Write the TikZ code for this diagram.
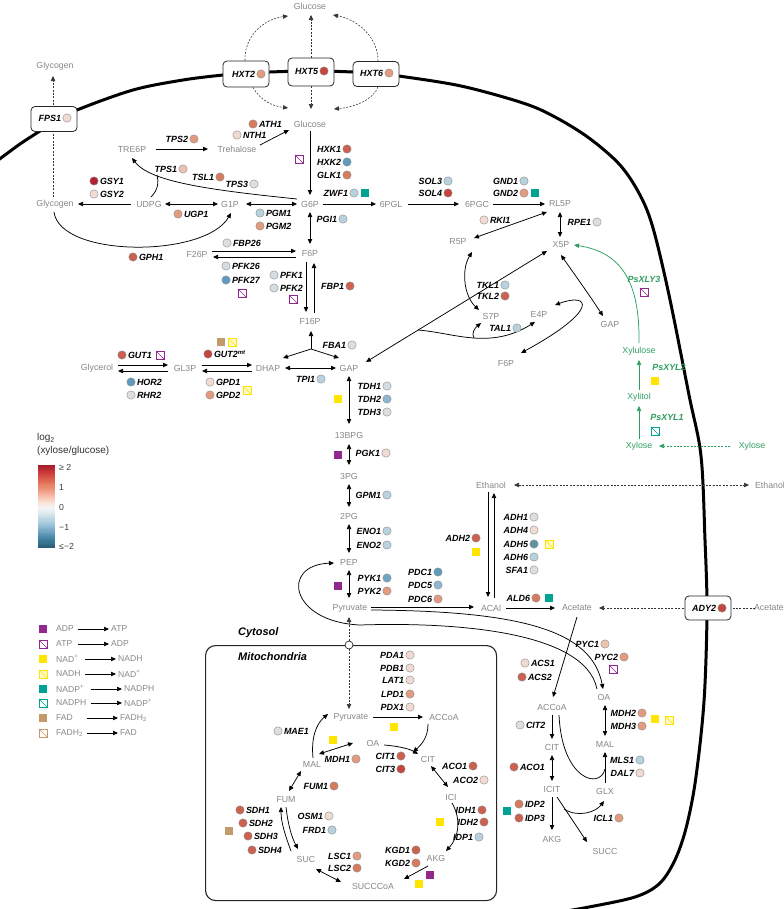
\documentclass[tikz,border=0pt]{standalone}
\usepackage{fontspec}
\setmainfont{Liberation Sans}
\setsansfont{Liberation Sans}
\usetikzlibrary{arrows.meta}

\definecolor{metgray}{RGB}{135,135,135}
\definecolor{xgreen}{RGB}{46,158,96}
\definecolor{purp}{RGB}{146,39,143}
\definecolor{yel}{RGB}{255,228,0}
\definecolor{yelpale}{RGB}{255,249,196}
\definecolor{teal2}{RGB}{0,163,145}
\definecolor{brn}{RGB}{196,154,108}
\definecolor{dr}{RGB}{178,34,52}
\definecolor{ra}{RGB}{196,70,63}
\definecolor{rb}{RGB}{204,97,80}
\definecolor{oa}{RGB}{215,123,95}
\definecolor{sa}{RGB}{227,155,128}
\definecolor{sb}{RGB}{237,193,176}
\definecolor{pa}{RGB}{240,218,210}
\definecolor{ga}{RGB}{222,222,222}
\definecolor{gb}{RGB}{211,221,227}
\definecolor{lb}{RGB}{183,209,223}
\definecolor{mb}{RGB}{143,184,208}
\definecolor{bb}{RGB}{112,166,197}
\definecolor{ba}{RGB}{94,155,190}
\definecolor{tb}{RGB}{94,148,159}
\definecolor{cb0}{RGB}{160,25,45}
\definecolor{cb1}{RGB}{200,55,55}
\definecolor{cb2}{RGB}{225,110,85}
\definecolor{cb3}{RGB}{244,170,145}
\definecolor{cb4}{RGB}{249,228,218}
\definecolor{cb5}{RGB}{245,245,245}
\definecolor{cb6}{RGB}{212,229,238}
\definecolor{cb7}{RGB}{150,192,214}
\definecolor{cb8}{RGB}{75,138,172}
\definecolor{cb9}{RGB}{38,92,115}

\newcommand\metfont{\fontsize{8.8}{10}\selectfont}
\newcommand\genefont{\fontsize{9}{10}\selectfont\bfseries\itshape}
\newcommand\legfont{\fontsize{8.6}{10}\selectfont}

\tikzset{
  met/.style={font=\metfont, text=metgray, inner sep=1bp},
  xmet/.style={font=\metfont, text=xgreen, inner sep=1bp},
  gene/.style={font=\genefont, text=black, inner sep=0bp},
  gcirc/.style={circle, draw=black!45, line width=0.4bp, minimum size=8.4bp, inner sep=0bp},
  sqr/.style={rectangle, minimum size=7.6bp, inner sep=0bp, line width=0.6bp},
  tbox/.style={draw=black!85, rounded corners=4bp, fill=white, line width=0.8bp, minimum width=46bp, minimum height=25bp, inner sep=0bp},
  mtip/.tip={Triangle[length=5bp,width=4.4bp]},
  arr/.style={-mtip, line width=0.75bp},
  darr/.style={mtip-mtip, line width=0.75bp},
  cline/.style={line width=0.75bp},
  dsh/.style={dash pattern=on 2bp off 1.4bp, line width=0.55bp, draw=black!80},
  garr/.style={-mtip, line width=0.75bp, draw=xgreen},
  leg/.style={font=\legfont, text=metgray, inner sep=0bp},
  larr/.style={-mtip, line width=0.7bp},
  cbl/.style={font=\fontsize{8.8}{10}\selectfont, text=black!75, inner sep=0bp},
}

\newcommand\gR[5]{\node[gcirc,fill=#4] (#1c) at (#2,#3) {};\node[gene,anchor=east] (#1) at ([xshift=-1.4bp]#1c.west) {#5};}
\newcommand\gL[5]{\node[gcirc,fill=#4] (#1c) at (#2,#3) {};\node[gene,anchor=west] (#1) at ([xshift=1.4bp]#1c.east) {#5};}
\newcommand\sqF[4]{\node[sqr,fill=#4] (#1) at (#2,#3) {};}
\newcommand\sqH[5]{\node[sqr,draw=#4,fill=#5] (#1) at (#2,#3) {};\draw[#4,line width=0.55bp] (#1.north west) -- (#1.south east);}

\begin{document}
\begin{tikzpicture}[x=1bp,y=-1bp]
\useasboundingbox (0,0) rectangle (784,909);

% ---------- membrane
\draw[line width=3bp, line cap=round] plot[smooth, tension=0.55] coordinates {(-3,161) (20,144) (40,131) (54,122) (77,110) (133,90) (183,80) (223,75) (246,73) (311,71) (376,73) (399,76) (461,86) (523,103) (555,117) (589,138) (620,165) (640,195) (653,228) (669,295) (689,395) (701,456) (705,540) (707,608) (705,684) (701,735) (694,790) (685,832) (674,862) (659,884) (635,897) (589,907) (560,912)};

% ---------- mitochondrion
\node[draw=black!85, rounded corners=10bp, line width=1.1bp, minimum width=291bp, minimum height=255bp, anchor=north west, inner sep=0bp] (mito) at (205,645) {};

% ---------- metabolites
\node[met] (GlcOut) at (310,6) {Glucose};
\node[met] (GlcIn) at (310,124) {Glucose};
\node[met] (GlyTop) at (55,66) {Glycogen};
\node[met] (TRE6P) at (132,149) {TRE6P};
\node[met] (Treh) at (237,149) {Trehalose};
\node[met] (Glyc) at (55,204) {Glycogen};
\node[met] (UDPG) at (149,204) {UDPG};
\node[met] (G1P) at (230,204) {G1P};
\node[met] (G6P) at (310,204) {G6P};
\node[met] (PGL) at (391,204) {6PGL};
\node[met] (PGC) at (477,204) {6PGC};
\node[met] (RL5P) at (560,204) {RL5P};
\node[met] (R5P) at (458,242) {R5P};
\node[met] (X5P) at (561,245) {X5P};
\node[met] (F6P) at (310,253) {F6P};
\node[met] (F26P) at (197,254) {F26P};
\node[met] (F16P) at (310,321) {F16P};
\node[met] (S7P) at (491,316) {S7P};
\node[met] (E4P) at (539,314) {E4P};
\node[met] (GAPr) at (610,324) {GAP};
\node[met] (F6Pr) at (506,363) {F6P};
\node[met] (Glycerol) at (97,368) {Glycerol};
\node[met] (GL3P) at (185,368) {GL3P};
\node[met] (DHAP) at (268,368) {DHAP};
\node[met] (GAP) at (349,368) {GAP};
\node[met] (BPG) at (349,435) {13BPG};
\node[met] (PG3) at (349,476) {3PG};
\node[met] (PG2) at (349,516) {2PG};
\node[met] (PEP) at (349,562) {PEP};
\node[met] (Pyr) at (350,608) {Pyruvate};
\node[met] (EtOH) at (491,485) {Ethanol};
\node[met] (EtOHout) at (770,485) {Ethanol};
\node[met] (ACAl) at (491,608) {ACAl};
\node[met] (Ac) at (577,608) {Acetate};
\node[met] (AcOut) at (769,608) {Acetate};
\node[xmet] (Xyl) at (639,446) {Xylose};
\node[xmet] (XylOut) at (752,446) {Xylose};
\node[xmet] (Xlt) at (639,397) {Xylitol};
\node[xmet] (Xlu) at (639,351) {Xylulose};
\node[met] (PyrM) at (351,717) {Pyruvate};
\node[met] (AcCoAM) at (444,717) {ACCoA};
\node[met] (OAM) at (373,743) {OA};
\node[met] (CITM) at (428,759) {CIT};
\node[met] (MALM) at (312,764) {MAL};
\node[met] (FUMM) at (286,800) {FUM};
\node[met] (SUCM) at (306,859) {SUC};
\node[met] (SCoAM) at (373,886) {SUCCCoA};
\node[met] (AKGM) at (436,858) {AKG};
\node[met] (ICIM) at (451,797) {ICI};
\node[met] (OA) at (604,697) {OA};
\node[met] (AcCoA) at (552,707) {ACCoA};
\node[met] (CIT) at (552,747) {CIT};
\node[met] (ICIT) at (552,789) {ICIT};
\node[met] (AKG) at (552,839) {AKG};
\node[met] (MAL) at (605,744) {MAL};
\node[met] (GLX) at (605,791) {GLX};
\node[met] (SUCC) at (605,851) {SUCC};

% ---------- connectors: upper glycolysis / storage
\draw[dsh,-mtip] ([shift={(-2,-7)}]Glyc.center) -- ([shift={(-2,10)}]GlyTop.center);
\draw[arr] ([shift={(23,-4)}]Treh.center) -- ([shift={(-21,6)}]GlcIn.center);
\draw[arr] ([shift={(24,0)}]TRE6P.center) -- ([shift={(-29,0)}]Treh.center);
\draw[arr] ([shift={(-13,-5)}]G6P.center) .. controls (210,190) and (150,182) .. ([shift={(0,9)}]TRE6P.center);
\coordinate (tpsJ) at (157,175);
\draw[cline] ([shift={(2,-7)}]UDPG.center) .. controls (158,190) and (159,182) .. (tpsJ);
\draw[arr] ([shift={(-18,0)}]UDPG.center) -- ([shift={(23,0)}]Glyc.center);
\draw[darr] ([shift={(16,0)}]UDPG.center) -- ([shift={(-12,0)}]G1P.center);
\draw[darr] ([shift={(16,0)}]G1P.center) -- ([shift={(-13,0)}]G6P.center);
\draw[arr] ([shift={(-1,8)}]Glyc.center) .. controls (60,258) and (205,258) .. ([shift={(1,9)}]G1P.center);
\draw[arr] ([shift={(0,7)}]GlcIn.center) -- ([shift={(0,-9)}]G6P.center);
\draw[darr] ([shift={(0,8)}]G6P.center) -- ([shift={(0,-9)}]F6P.center);
\draw[arr] ([shift={(15,-3)}]F26P.center) -- ([shift={(-14,-2)}]F6P.center);
\draw[arr] ([shift={(-14,4)}]F6P.center) -- ([shift={(16,3)}]F26P.center);
\draw[arr] ([shift={(-4,9)}]F6P.center) -- ([shift={(-4,-9)}]F16P.center);
\draw[arr] ([shift={(4,-8)}]F16P.center) -- ([shift={(4,10)}]F6P.center);
\coordinate (fbaJ) at (311,349);
\draw[arr] (fbaJ) -- ([shift={(1,10)}]F16P.center);
\draw[arr] (fbaJ) -- ([shift={(15,-10)}]DHAP.center);
\draw[arr] (fbaJ) -- ([shift={(-10,-10)}]GAP.center);
\draw[darr] ([shift={(17,0)}]DHAP.center) -- ([shift={(-13,0)}]GAP.center);
\draw[darr] ([shift={(0,8)}]GAP.center) -- ([shift={(0,-11)}]BPG.center);
\draw[darr] ([shift={(0,9)}]BPG.center) -- ([shift={(0,-11)}]PG3.center);
\draw[darr] ([shift={(0,8)}]PG3.center) -- ([shift={(0,-9)}]PG2.center);
\draw[darr] ([shift={(0,8)}]PG2.center) -- ([shift={(0,-9)}]PEP.center);
\draw[darr] ([shift={(0,8)}]PEP.center) -- ([shift={(-1,-10)}]Pyr.center);
% glycerol
\draw[arr] ([shift={(21,-3)}]Glycerol.center) -- ([shift={(-17,-3)}]GL3P.center);
\draw[arr] ([shift={(-17,3)}]GL3P.center) -- ([shift={(21,3)}]Glycerol.center);
\draw[arr] ([shift={(17,-3)}]GL3P.center) -- ([shift={(-16,-3)}]DHAP.center);
\draw[arr] ([shift={(-16,3)}]DHAP.center) -- ([shift={(17,3)}]GL3P.center);
% pentose phosphate
\draw[arr] ([shift={(13,0)}]G6P.center) -- ([shift={(-15,0)}]PGL.center);
\draw[arr] ([shift={(17,0)}]PGL.center) -- ([shift={(-18,0)}]PGC.center);
\draw[arr] ([shift={(16,0)}]PGC.center) -- ([shift={(-15,0)}]RL5P.center);
\draw[darr] ([shift={(0,8)}]RL5P.center) -- ([shift={(-1,-8)}]X5P.center);
\draw[darr] ([shift={(-13,8)}]RL5P.center) -- ([shift={(16,-4)}]R5P.center);
\draw[darr] ([shift={(-14,6)}]X5P.center) -- ([shift={(17,-6)}]GAP.center);
\draw[darr] ([shift={(14,10)}]R5P.center) .. controls (461,270) and (464,296) .. ([shift={(-12,-6)}]S7P.center);
\draw[darr] ([shift={(0,10)}]X5P.center) .. controls (575,275) and (590,296) .. ([shift={(-7,-8)}]GAPr.center);
\draw[darr] ([shift={(16,-9)}]E4P.center) .. controls (590,292) and (600,310) .. ([shift={(15,-10)}]F6Pr.center);
\coordinate (talS) at (418,330);
\coordinate (talJ) at (474,338);
\draw[arr] (talS) .. controls (455,333) and (490,350) .. ([shift={(-4,8)}]E4P.center);
\draw[arr] (talJ) .. controls (471,333) and (475,328) .. ([shift={(-10,7)}]S7P.center);
% xylose
\draw[dsh,draw=xgreen,-mtip] ([shift={(-22,0)}]XylOut.center) -- ([shift={(20,0)}]Xyl.center);
\draw[garr] ([shift={(0,-7)}]Xyl.center) -- ([shift={(0,9)}]Xlt.center);
\draw[garr] ([shift={(0,-7)}]Xlt.center) -- ([shift={(0,9)}]Xlu.center);
\draw[garr] ([shift={(0,-8)}]Xlu.center) .. controls (640,280) and (620,252) .. ([shift={(13,0)}]X5P.center);
% ethanol / acetate
\draw[dsh,mtip-mtip] ([shift={(23,0)}]EtOH.center) -- ([shift={(-21,0)}]EtOHout.center);
\draw[arr] ([shift={(-3,7)}]EtOH.center) -- ([shift={(-3,-11)}]ACAl.center);
\draw[arr] ([shift={(3,-10)}]ACAl.center) -- ([shift={(3,8)}]EtOH.center);
\draw[arr] ([shift={(21,-1)}]Pyr.center) -- ([shift={(-17,-1)}]ACAl.center);
\draw[arr] ([shift={(21,2)}]Pyr.center) .. controls (520,611) and (592,630) .. ([shift={(-1,-8)}]OA.center);
\coordinate (pepMid) at (360,625);
\draw[arr] ([shift={(-7,-8)}]OA.center) .. controls (585,630) and (450,622) .. (pepMid) .. controls (290,622) and (280,565) .. ([shift={(-15,1)}]PEP.center);
\draw[arr] ([shift={(15,0)}]ACAl.center) -- ([shift={(-22,0)}]Ac.center);
\draw[dsh,-mtip] ([shift={(-14,0)}]AcOut.center) -- ([shift={(22,0)}]Ac.center);
\draw[arr] ([shift={(0,9)}]Ac.center) -- ([shift={(1,-10)}]AcCoA.center);
% pyruvate transport
\draw[dsh,mtip-mtip] ([shift={(-1,9)}]Pyr.center) -- ([shift={(-2,-8)}]PyrM.center);
\node[circle, draw=black!85, fill=white, minimum size=8bp, inner sep=0bp, line width=0.7bp] (port) at (349,645) {};
% mitochondrial TCA
\draw[arr] ([shift={(22,0)}]PyrM.center) -- ([shift={(-21,0)}]AcCoAM.center);
\draw[arr] ([shift={(-16,7)}]AcCoAM.center) .. controls (428,738) and (421,745) .. ([shift={(-15,-7)}]CITM.center);
\draw[arr] ([shift={(11,2)}]OAM.center) .. controls (398,746) and (410,749) .. ([shift={(-10,-5)}]CITM.center);
\draw[darr] ([shift={(-20,0)}]OAM.center) -- ([shift={(7,-10)}]MALM.center);
\draw[arr] ([shift={(1,-6)}]MALM.center) .. controls (311,738) and (316,724) .. ([shift={(-23,-3)}]PyrM.center);
\draw[darr] ([shift={(3,-9)}]FUMM.center) -- ([shift={(-11,7)}]MALM.center);
\draw[arr] ([shift={(-15,-8)}]SUCM.center) .. controls (285,835) and (281,822) .. ([shift={(-5,7)}]FUMM.center);
\draw[arr] ([shift={(0,7)}]FUMM.center) .. controls (288,825) and (292,838) .. ([shift={(-8,-10)}]SUCM.center);
\draw[darr] ([shift={(10,10)}]SUCM.center) -- ([shift={(-32,-4)}]SCoAM.center);
\draw[arr] ([shift={(-8,8)}]AKGM.center) -- ([shift={(31,-7)}]SCoAM.center);
\draw[darr] ([shift={(3,7)}]CITM.center) -- ([shift={(-3,-10)}]ICIM.center);
\draw[arr] ([shift={(1,6)}]ICIM.center) .. controls (462,820) and (458,838) .. ([shift={(10,-7)}]AKGM.center);
% cytosolic TCA / glyoxylate
\draw[arr] ([shift={(0,8)}]AcCoA.center) -- ([shift={(0,-8)}]CIT.center);
\draw[darr] ([shift={(0,8)}]CIT.center) -- ([shift={(0,-8)}]ICIT.center);
\draw[arr] ([shift={(0,8)}]ICIT.center) -- ([shift={(0,-9)}]AKG.center);
\draw[arr] ([shift={(5,8)}]ICIT.center) -- ([shift={(-18,-9)}]SUCC.center);
\coordinate (iclS) at (564,809);
\draw[arr] (iclS) .. controls (578,818) and (596,812) .. ([shift={(-1,10)}]GLX.center);
\draw[cline] ([shift={(7,8)}]AcCoA.center) .. controls (562,780) and (600,790) .. ([shift={(0,25)}]MAL.center);
\draw[arr] ([shift={(0,-8)}]GLX.center) -- ([shift={(0,8)}]MAL.center);
\draw[darr] ([shift={(1,8)}]OA.center) -- ([shift={(0,-8)}]MAL.center);

% ---------- transporter boxes
\node[tbox] (bFPS1) at (54,119) {};
\node[tbox, minimum height=26bp] (bHXT2) at (246,74) {};
\node[tbox, minimum height=28bp] (bHXT5) at (311,72) {};
\node[tbox] (bHXT6) at (376,74) {};
\node[tbox, minimum height=24bp] (bADY2) at (708,608) {};
\gR{FPS1}{67}{118}{pa}{FPS1}
\gR{HXT2}{261}{74}{sa}{HXT2}
\gR{HXT5}{324}{71}{ra}{HXT5}
\gR{HXT6}{389}{73}{sa}{HXT6}
\gR{ADY2}{722}{608}{ra}{ADY2}
\draw[dsh,-mtip] ([xshift=-1bp]bHXT2.north) .. controls (244,36) and (264,19) .. ([shift={(-22,10)}]GlcOut.center);
\draw[dsh,-mtip] ([xshift=7bp]bHXT2.south) .. controls (260,100) and (272,106) .. ([shift={(-22,-16)}]GlcIn.center);
\draw[dsh,-mtip] ([xshift=2bp]bHXT6.north) .. controls (378,35) and (355,19) .. ([shift={(23,9)}]GlcOut.center);
\draw[dsh,-mtip] ([xshift=2bp]bHXT6.south) .. controls (373,100) and (355,107) .. ([shift={(24,-15)}]GlcIn.center);
\draw[dsh,-mtip] (bHXT5.north) -- ([shift={(1,9)}]GlcOut.center);
\draw[dsh,-mtip] (bHXT5.south) -- ([shift={(1,-15)}]GlcIn.center);

% ---------- genes
\gR{TPS2}{194}{139}{sa}{TPS2}
\gL{ATH1}{253}{124}{oa}{ATH1}
\gL{NTH1}{237}{135}{pa}{NTH1}
\gR{TPS1}{183}{169}{sb}{TPS1}
\gR{TSL1}{220}{177}{oa}{TSL1}
\gR{TPS3}{254}{184}{ga}{TPS3}
\gL{GSY1}{94}{181}{dr}{GSY1}
\gL{GSY2}{94}{194}{pa}{GSY2}
\gL{UGP1}{178}{214}{sa}{UGP1}
\gL{PGM1}{260}{213}{lb}{PGM1}
\gL{PGM2}{260}{226}{sa}{PGM2}
\gL{GPH1}{133}{257}{rb}{GPH1}
\gR{HXK1}{347}{149}{rb}{HXK1}
\gR{HXK2}{347}{162}{ba}{HXK2}
\gR{GLK1}{347}{175}{oa}{GLK1}
\gR{ZWF1}{354}{193}{lb}{ZWF1}
\gR{SOL3}{448}{181}{lb}{SOL3}
\gR{SOL4}{448}{193}{ra}{SOL4}
\gR{GND1}{524}{181}{lb}{GND1}
\gR{GND2}{524}{193}{sa}{GND2}
\gR{RPE1}{597}{222}{ga}{RPE1}
\gL{RKI1}{484}{220}{pa}{RKI1}
\gR{PGI1}{343}{219}{lb}{PGI1}
\gL{FBP26}{227}{243}{ga}{FBP26}
\gL{PFK26}{226}{266}{gb}{PFK26}
\gL{PFK27}{226}{280}{ba}{PFK27}
\gL{PFK1}{274}{275}{gb}{PFK1}
\gL{PFK2}{274}{288}{gb}{PFK2}
\gR{FBP1}{350}{286}{rb}{FBP1}
\gR{FBA1}{352}{345}{ga}{FBA1}
\gR{TPI1}{321}{379}{lb}{TPI1}
\gR{TKL1}{505}{285}{lb}{TKL1}
\gR{TKL2}{505}{296}{rb}{TKL2}
\gR{TAL1}{517}{328}{lb}{TAL1}
\gL{GUT1}{122}{355}{rb}{GUT1}
\gL{GUT2}{208}{354}{ra}{GUT2\textsuperscript{mt}}
\gL{HOR2}{131}{382}{ba}{HOR2}
\gL{RHR2}{131}{395}{ga}{RHR2}
\gL{GPD1}{210}{382}{pa}{GPD1}
\gL{GPD2}{210}{395}{sa}{GPD2}
\gR{TDH1}{387}{386}{gb}{TDH1}
\gR{TDH2}{387}{399}{mb}{TDH2}
\gR{TDH3}{387}{412}{ga}{TDH3}
\gR{PGK1}{386}{453}{pa}{PGK1}
\gR{GPM1}{387}{495}{lb}{GPM1}
\gR{ENO1}{387}{531}{lb}{ENO1}
\gR{ENO2}{387}{545}{lb}{ENO2}
\gR{PYK1}{387}{578}{bb}{PYK1}
\gR{PYK2}{387}{591}{sa}{PYK2}
\gR{PDC1}{438}{572}{ba}{PDC1}
\gR{PDC5}{438}{585}{mb}{PDC5}
\gR{PDC6}{438}{599}{sa}{PDC6}
\gR{ADH2}{476}{538}{rb}{ADH2}
\gR{ADH1}{534}{517}{ga}{ADH1}
\gR{ADH4}{534}{530}{pa}{ADH4}
\gR{ADH5}{534}{544}{tb}{ADH5}
\gR{ADH6}{534}{557}{lb}{ADH6}
\gR{SFA1}{534}{570}{ga}{SFA1}
\gR{ALD6}{536}{598}{oa}{ALD6}
\gR{PYC1}{605}{644}{sb}{PYC1}
\gR{PYC2}{624}{657}{sa}{PYC2}
\gL{ACS1}{525}{663}{pa}{ACS1}
\gL{ACS2}{522}{677}{rb}{ACS2}
\gR{PDA1}{410}{655}{pa}{PDA1}
\gR{PDB1}{410}{668}{pa}{PDB1}
\gR{LAT1}{410}{680}{pa}{LAT1}
\gR{LPD1}{410}{694}{sa}{LPD1}
\gR{PDX1}{410}{707}{pa}{PDX1}
\gL{MAE1}{278}{731}{ga}{MAE1}
\gR{MDH1}{356}{759}{sa}{MDH1}
\gR{CIT1}{401}{756}{rb}{CIT1}
\gR{CIT3}{401}{769}{ra}{CIT3}
\gR{ACO1m}{473}{766}{rb}{ACO1}
\gR{ACO2}{484}{780}{pa}{ACO2}
\gR{FUM1}{334}{786}{oa}{FUM1}
\gR{OSM1}{329}{816}{pa}{OSM1}
\gR{FRD1}{332}{830}{lb}{FRD1}
\gL{SDH1}{240}{810}{rb}{SDH1}
\gL{SDH2}{243}{823}{rb}{SDH2}
\gL{SDH3}{248}{836}{rb}{SDH3}
\gL{SDH4}{252}{850}{rb}{SDH4}
\gR{LSC1}{357}{856}{sa}{LSC1}
\gR{LSC2}{357}{868}{oa}{LSC2}
\gR{KGD1}{416}{850}{rb}{KGD1}
\gR{KGD2}{416}{863}{oa}{KGD2}
\gR{IDH1}{482}{810}{rb}{IDH1}
\gR{IDH2}{484}{822}{rb}{IDH2}
\gR{IDP1}{479}{837}{lb}{IDP1}
\gL{CIT2}{520}{725}{ga}{CIT2}
\gL{ACO1c}{514}{767}{rb}{ACO1}
\gL{IDP2}{519}{804}{oa}{IDP2}
\gL{IDP3}{519}{818}{rb}{IDP3}
\gR{MDH2}{642}{713}{sa}{MDH2}
\gR{MDH3}{642}{726}{sa}{MDH3}
\gR{MLS1}{640}{760}{lb}{MLS1}
\gR{DAL7}{640}{773}{pa}{DAL7}
\gR{ICL1}{619}{818}{sa}{ICL1}
\node[gene, text=xgreen] (PsXLY3) at (644,279) {PsXLY3};
\node[gene, text=xgreen] (PsXYL2) at (669,367) {PsXYL2};
\node[gene, text=xgreen] (PsXYL1) at (667,417) {PsXYL1};

% ---------- cofactor squares
\sqH{q1}{299}{159}{purp}{white}
\sqF{q2}{365}{193}{teal2}
\sqF{q3}{535}{193}{teal2}
\sqH{q4}{242}{293}{purp}{white}
\sqH{q5}{293}{299}{purp}{white}
\sqH{q6}{160}{355}{purp}{white}
\sqF{q7}{221}{342}{brn}
\sqH{q8}{232}{342}{yel}{yelpale}
\sqH{q9}{247}{390}{yel}{yelpale}
\sqF{q10}{338}{399}{yel}
\sqF{q11}{338}{455}{purp}
\sqF{q12}{338}{586}{purp}
\sqF{q13}{476}{552}{yel}
\sqH{q14}{549}{544}{yel}{yelpale}
\sqF{q15}{549}{598}{teal2}
\sqH{q16}{613}{669}{purp}{white}
\sqF{q17}{394}{727}{yel}
\sqF{q18}{333}{740}{yel}
\sqF{q19}{440}{822}{yel}
\sqF{q20}{430}{875}{purp}
\sqF{q21}{419}{884}{yel}
\sqF{q22}{229}{831}{brn}
\sqF{q23}{507}{811}{teal2}
\sqF{q24}{655}{719}{yel}
\sqH{q25}{669}{720}{yel}{yelpale}
\sqH{q26}{644}{292}{purp}{white}
\sqF{q27}{655}{381}{yel}
\sqH{q28}{655}{431}{teal2}{white}

% ---------- compartment labels
\node[font=\fontsize{11}{13}\selectfont\bfseries\itshape, anchor=west, inner sep=0bp] (cytlab) at (238,633) {Cytosol};
\node[font=\fontsize{11}{13}\selectfont\bfseries\itshape, anchor=west, inner sep=0bp] (mitlab) at (238,657) {Mitochondria};

% ---------- colour bar
\node[font=\fontsize{10}{12}\selectfont, text=black!80, anchor=west, inner sep=0bp] (loglab) at (37,438) {log\textsubscript{2}};
\node[font=\fontsize{10}{12}\selectfont, text=black!80, anchor=west, inner sep=0bp] (ratlab) at (37,451) {(xylose/glucose)};
\foreach \ya/\yb/\ca/\cc in {465/472/cb0/cb1, 472/482/cb1/cb2, 482/493/cb2/cb3, 493/503/cb3/cb4, 503/508/cb4/cb5, 508/515/cb5/cb6, 515/526/cb6/cb7, 526/537/cb7/cb8, 537/548/cb8/cb9}{
  \foreach \k in {0,...,9}{
    \pgfmathsetmacro\pp{\k*10+5}
    \fill[fill=\cc!\pp!\ca] (38,{\ya+(\yb-\ya)*\k/10}) rectangle (55,{\ya+(\yb-\ya)*(\k+1)/10+0.35});
  }
}
\node[cbl,anchor=west] (cbA) at (59,467) {≥ 2};
\node[cbl,anchor=west] (cbB) at (59,487) {1};
\node[cbl,anchor=west] (cbC) at (59,507) {0};
\node[cbl,anchor=west] (cbD) at (59,527) {−1};
\node[cbl,anchor=west] (cbE) at (59,546) {≤−2};

% ---------- cofactor legend
\sqF{lgA}{43}{629}{purp}
\node[leg,anchor=west] (lgA1) at (56,629) {ADP};
\node[leg,anchor=west] (lgA2) at (111,629) {ATP};
\draw[larr] ([xshift=22bp]lgA1.west) -- ([xshift=-2bp]lgA2.west);
\sqH{lgB}{43}{644}{purp}{white}
\node[leg,anchor=west] (lgB1) at (56,644) {ATP};
\node[leg,anchor=west] (lgB2) at (111,644) {ADP};
\draw[larr] ([xshift=22bp]lgB1.west) -- ([xshift=-2bp]lgB2.west);
\sqF{lgC}{43}{659}{yel}
\node[leg,anchor=west] (lgC1) at (56,659) {NAD\textsuperscript{+}};
\node[leg,anchor=west] (lgC2) at (118,659) {NADH};
\draw[larr] ([xshift=29bp]lgC1.west) -- ([xshift=-2bp]lgC2.west);
\sqH{lgD}{43}{674}{yel}{yelpale}
\node[leg,anchor=west] (lgD1) at (56,674) {NADH};
\node[leg,anchor=west] (lgD2) at (118,674) {NAD\textsuperscript{+}};
\draw[larr] ([xshift=29bp]lgD1.west) -- ([xshift=-2bp]lgD2.west);
\sqF{lgE}{43}{689}{teal2}
\node[leg,anchor=west] (lgE1) at (56,689) {NADP\textsuperscript{+}};
\node[leg,anchor=west] (lgE2) at (124,689) {NADPH};
\draw[larr] ([xshift=35bp]lgE1.west) -- ([xshift=-2bp]lgE2.west);
\sqH{lgF}{43}{703}{teal2}{white}
\node[leg,anchor=west] (lgF1) at (56,703) {NADPH};
\node[leg,anchor=west] (lgF2) at (124,703) {NADP\textsuperscript{+}};
\draw[larr] ([xshift=35bp]lgF1.west) -- ([xshift=-2bp]lgF2.west);
\sqF{lgG}{43}{718}{brn}
\node[leg,anchor=west] (lgG1) at (56,718) {FAD};
\node[leg,anchor=west] (lgG2) at (120,718) {FADH\textsubscript{2}};
\draw[larr] ([xshift=31bp]lgG1.west) -- ([xshift=-2bp]lgG2.west);
\sqH{lgH}{43}{733}{brn}{white}
\node[leg,anchor=west] (lgH1) at (56,733) {FADH\textsubscript{2}};
\node[leg,anchor=west] (lgH2) at (120,733) {FAD};
\draw[larr] ([xshift=31bp]lgH1.west) -- ([xshift=-2bp]lgH2.west);
\end{tikzpicture}
\end{document}
